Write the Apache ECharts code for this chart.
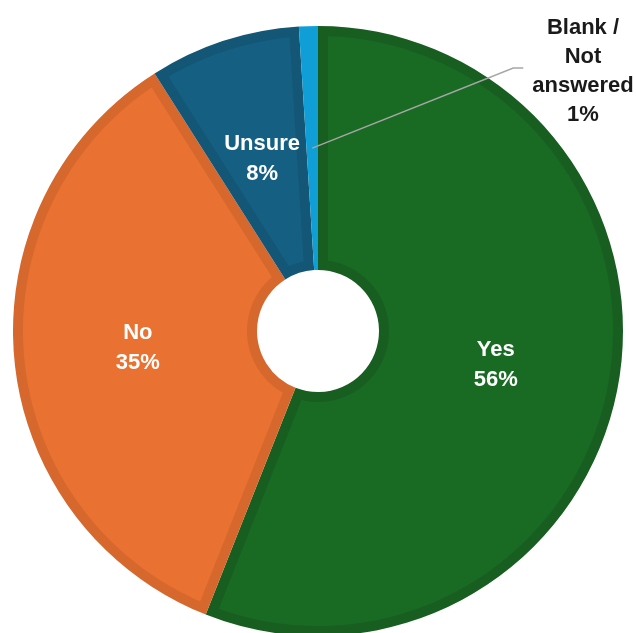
<!DOCTYPE html>
<html>
<head>
<meta charset="utf-8">
<script src="https://cdn.jsdelivr.net/npm/echarts@6/dist/echarts.min.js"></script>
<style>
  html, body { margin: 0; padding: 0; background: #ffffff; }
  #chart { width: 636px; height: 633px; }
</style>
</head>
<body>
<div id="chart"></div>
<script>
// Survey answers, share of respondents (%)
const categories = ['Yes', 'No', 'Unsure', 'Blank /\nNot\nanswered'];
const shares = [56, 35, 8, 1];
const fillColors = ['#196B24', '#E97132', '#156082', '#0F9ED5'];
const edgeColors = ['#185E21', '#D6682E', '#135676', '#0F9ED5'];

// Ring geometry (px)
const CX = 318, CY = 331, R_OUT = 305, R_IN = 61, EDGE = 10;
const FONT = "'Liberation Sans', Arial, sans-serif";

const total = shares.reduce((a, b) => a + b, 0);
const cumulative = shares.map((_, i) => shares.slice(0, i).reduce((a, b) => a + b, 0));

function polar(r, t) { return [CX + r * Math.sin(t), CY - r * Math.cos(t)]; }

// Lighter fill of a slice, inset by EDGE px from every side so the darker rim shows.
function insetSector(t0, t1) {
  const ro = R_OUT - EDGE, ri = R_IN + EDGE;
  const ao = Math.asin(EDGE / ro), ai = Math.asin(EDGE / ri);
  if (t1 - t0 <= 2 * ao) return null;
  const pts = [];
  const steps = Math.max(2, Math.ceil((t1 - t0) * 180 / Math.PI));
  for (let k = 0; k <= steps; k++) {
    pts.push(polar(ro, t0 + ao + (t1 - t0 - 2 * ao) * k / steps));
  }
  if (t1 - t0 > 2 * ai) {
    for (let k = steps; k >= 0; k--) {
      pts.push(polar(ri, t0 + ai + (t1 - t0 - 2 * ai) * k / steps));
    }
  } else {
    const h = (t1 - t0) / 2;
    pts.push(polar(EDGE / Math.sin(h), t0 + h));
  }
  return pts;
}

const pieData = shares.map((v, i) => ({ name: categories[i], value: v }));

const chart = echarts.init(document.getElementById('chart'), null, { renderer: 'canvas' });
chart.setOption({
  backgroundColor: '#ffffff',
  animation: false,
  series: [
    {
      // darker rim colour, full ring
      type: 'pie',
      z: 1,
      silent: true,
      center: [CX, CY],
      radius: [R_IN, R_OUT],
      startAngle: 90,
      clockwise: true,
      avoidLabelOverlap: false,
      label: { show: false },
      labelLine: { show: false },
      emphasis: { disabled: true },
      data: pieData.map((d, i) => ({ ...d, itemStyle: { color: edgeColors[i], borderWidth: 0 } }))
    },
    {
      // main slice fill
      type: 'custom',
      z: 2,
      silent: true,
      coordinateSystem: 'none',
      data: shares,
      renderItem: function (params, api) {
        const i = params.dataIndex;
        const t0 = cumulative[i] / total * Math.PI * 2;
        const t1 = (cumulative[i] + api.value(0)) / total * Math.PI * 2;
        const pts = insetSector(t0, t1);
        if (!pts) return null;
        return { type: 'polygon', shape: { points: pts }, style: { fill: fillColors[i] } };
      }
    },
    {
      // labels
      type: 'pie',
      z: 3,
      silent: true,
      center: [CX, CY],
      radius: [R_IN, R_OUT - 10],
      startAngle: 90,
      clockwise: true,
      avoidLabelOverlap: false,
      emphasis: { disabled: true },
      itemStyle: { color: 'transparent', borderWidth: 0 },
      label: {
        show: true,
        position: 'inside',
        formatter: p => p.name + '\n' + p.value + '%',
        color: '#ffffff',
        fontFamily: FONT,
        fontWeight: 'bold',
        fontSize: 22,
        lineHeight: 30
      },
      labelLine: { show: false },
      labelLayout: function (p) {
        if (p.dataIndex !== 3) return {};
        const tm = (cumulative[3] + shares[3] / 2) / total * Math.PI * 2;
        const start = polar((R_IN + R_OUT) / 2, tm);
        const lx = 583, ly = 71;
        const left = lx - p.labelRect.width / 2;
        return {
          x: lx, y: ly, align: 'center', verticalAlign: 'middle',
          labelLinePoints: [start, [left - 19, ly - 3], [left - 9, ly - 3]]
        };
      },
      data: pieData.map((d, i) => i === 3 ? {
        ...d,
        label: { position: 'outside', color: '#1a1a1a', fontSize: 22, lineHeight: 29 },
        labelLine: { show: true, length: 10, length2: 10, lineStyle: { color: '#a6a6a6', width: 1.5 } }
      } : d)
    }
  ]
});
</script>
</body>
</html>
